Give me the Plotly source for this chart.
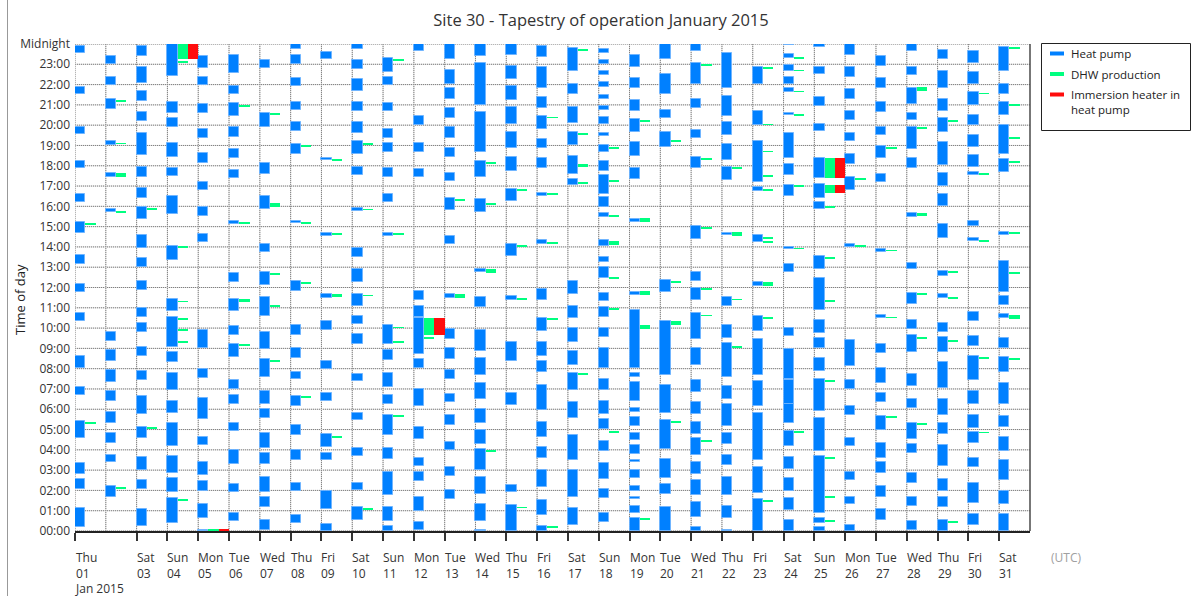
import plotly.graph_objects as go
from datetime import datetime, timedelta

# ---------------- data (hours of day, start/end of each run) ----------------
YEAR, MONTH, N_DAYS = 2015, 1, 31
labelled_days = [1] + list(range(3, 32))
day_abbr = ["Mon", "Tue", "Wed", "Thu", "Fri", "Sat", "Sun"]
hour_labels = [f"{h:02d}:00" for h in range(24)] + ["Midnight"]

heat_pump = {
    1: [(23.57, 23.9), (21.52, 21.9), (19.56, 19.93), (17.89, 18.23), (16.23, 16.6), (14.67, 15.25), (13.18, 13.6), (11.77, 12.18), (10.34, 10.74), (8.03, 8.6), (6.72, 7.1), (4.56, 5.43), (2.79, 3.33), (2.07, 2.54), (0.2, 1.11)],
    2: [(23.0, 23.41), (21.97, 22.39), (20.79, 21.31), (19.02, 19.2), (17.46, 17.64), (15.7, 15.89), (9.36, 9.8), (8.38, 8.92), (7.34, 7.92), (6.39, 6.89), (5.34, 5.87), (4.36, 4.85), (3.38, 3.77), (1.67, 2.2)],
    3: [(23.41, 23.9), (22.07, 22.89), (21.18, 21.7), (20.2, 20.67), (18.54, 19.59), (17.46, 17.92), (16.43, 16.89), (15.36, 15.95), (13.93, 14.59), (13.02, 13.46), (11.89, 12.3), (10.54, 10.98), (9.8, 10.25), (8.62, 9.05), (7.46, 7.87), (5.75, 6.66), (4.57, 5.13), (3.03, 3.66), (2.07, 2.49), (0.25, 1.07)],
    4: [(22.43, 24.0), (20.59, 21.15), (19.92, 20.33), (18.43, 19.11), (17.51, 17.89), (15.64, 16.51), (13.34, 14.05), (10.84, 11.41), (9.07, 10.57), (8.34, 8.8), (6.93, 7.79), (5.84, 6.41), (4.18, 5.3), (2.84, 3.72), (1.92, 2.59), (0.39, 1.61)],
    5: [(22.84, 23.41), (21.97, 22.39), (20.62, 21.03), (19.36, 19.8), (18.15, 18.64), (16.82, 17.21), (15.54, 15.98), (14.23, 14.66), (9.02, 9.89), (7.56, 8.0), (5.51, 6.56), (4.23, 4.64), (2.75, 3.41), (1.98, 2.46), (0.66, 1.31), (0.0, 0.06)],
    6: [(22.56, 23.46), (21.52, 21.93), (20.46, 21.08), (19.43, 19.93), (18.38, 18.85), (17.38, 17.79), (15.11, 15.28), (12.26, 12.72), (10.84, 11.44), (9.67, 10.08), (8.56, 9.23), (6.98, 7.43), (6.28, 6.69), (4.95, 5.33), (3.3, 3.98), (1.93, 2.33), (0.51, 0.87)],
    7: [(22.84, 23.2), (19.93, 20.62), (17.59, 18.13), (15.89, 16.51), (13.74, 14.16), (12.1, 12.74), (10.59, 11.51), (8.95, 9.8), (7.61, 8.48), (6.28, 6.9), (5.59, 6.02), (4.11, 4.85), (3.3, 3.82), (1.92, 2.64), (1.18, 1.69), (0.03, 0.52)],
    8: [(23.74, 24.0), (23.03, 23.46), (21.92, 22.34), (20.75, 21.16), (19.72, 20.15), (18.59, 19.08), (15.16, 15.3), (11.82, 12.34), (9.67, 10.13), (8.54, 9.02), (7.49, 7.84), (6.15, 6.64), (4.72, 5.2), (3.48, 4.0), (1.97, 2.39), (0.41, 0.79)],
    9: [(23.25, 23.61), (18.26, 18.38), (14.56, 14.7), (11.48, 11.67), (9.9, 10.34), (8.0, 8.36), (6.41, 6.82), (4.13, 4.77), (3.48, 3.82), (1.1, 1.98), (0.0, 0.34)],
    10: [(23.74, 24.0), (22.75, 23.21), (21.7, 22.26), (20.69, 21.16), (19.61, 20.15), (18.57, 19.21), (17.54, 17.93), (15.79, 15.93), (13.48, 13.97), (12.26, 12.93), (11.08, 11.66), (10.18, 10.62), (9.21, 9.69), (7.41, 7.74), (5.49, 5.84), (3.69, 4.07), (2.0, 2.39), (0.54, 1.16)],
    11: [(22.64, 23.33), (21.97, 22.39), (20.72, 21.1), (19.36, 19.8), (18.67, 19.11), (17.44, 17.89), (16.23, 16.62), (14.56, 14.7), (9.21, 10.13), (8.43, 8.93), (7.1, 7.79), (6.28, 6.7), (4.72, 5.74), (3.57, 4.11), (1.77, 2.89), (0.49, 1.16), (0.0, 0.25)],
    12: [(23.64, 24.0), (20.0, 20.43), (18.67, 19.11), (17.46, 17.82), (11.39, 11.85), (10.54, 11.11), (8.72, 10.48), (8.03, 8.48), (6.15, 6.98), (4.52, 5.13), (3.18, 3.62), (2.46, 2.89), (0.98, 1.66), (0.05, 0.46)],
    13: [(23.25, 24.0), (22.05, 22.7), (21.31, 21.85), (20.34, 20.85), (19.38, 19.9), (18.44, 18.89), (17.25, 17.66), (15.84, 16.41), (14.16, 14.56), (11.48, 11.67), (9.48, 9.95), (8.49, 9.02), (7.48, 7.95), (6.34, 6.77), (5.21, 5.7), (3.97, 4.41), (2.69, 3.13), (1.59, 2.0)],
    14: [(23.41, 24.0), (20.98, 23.08), (18.69, 20.67), (17.46, 18.23), (15.7, 16.36), (12.75, 12.89), (11.03, 11.51), (8.89, 9.93), (7.7, 8.52), (6.49, 7.3), (5.3, 6.03), (4.31, 5.0), (3.03, 4.02), (1.82, 2.64), (0.51, 1.31), (0.0, 0.05)],
    15: [(23.44, 24.0), (22.26, 22.93), (21.25, 21.95), (20.05, 20.9), (18.87, 19.66), (17.75, 18.43), (16.25, 16.85), (13.54, 14.15), (11.38, 11.56), (8.39, 9.3), (6.2, 6.8), (1.9, 2.28), (0.0, 1.26)],
    16: [(23.38, 23.9), (21.82, 22.89), (20.84, 21.41), (19.8, 20.46), (18.87, 19.34), (17.89, 18.38), (16.52, 16.67), (14.16, 14.36), (11.36, 11.93), (9.84, 10.52), (8.62, 9.31), (7.84, 8.36), (5.98, 7.18), (4.61, 5.38), (3.62, 4.15), (2.15, 3.02), (0.79, 1.51), (0.0, 0.25)],
    17: [(22.69, 23.82), (21.56, 22.05), (20.13, 20.92), (19.0, 19.64), (17.59, 18.46), (17.05, 17.34), (11.66, 12.3), (10.49, 11.11), (9.31, 10.0), (8.2, 8.89), (6.97, 7.79), (5.59, 6.36), (3.52, 4.75), (1.66, 3.0), (0.3, 1.15)],
    18: [(23.57, 23.77), (23.03, 23.23), (22.48, 22.69), (21.9, 22.15), (21.31, 21.51), (20.75, 20.93), (20.05, 20.39), (19.46, 19.61), (18.66, 19.03), (17.75, 18.23), (16.62, 17.54), (15.98, 16.46), (15.49, 15.69), (14.07, 14.33), (13.26, 13.52), (12.46, 13.03), (11.33, 11.75), (10.54, 11.02), (9.56, 10.0), (8.05, 9.02), (6.97, 7.49), (5.79, 6.41), (5.05, 5.54), (3.93, 4.46), (2.57, 3.33), (1.61, 2.07), (0.43, 0.87)],
    19: [(22.89, 23.46), (21.82, 22.34), (20.69, 21.23), (19.64, 20.3), (18.49, 19.15), (17.34, 17.89), (15.25, 15.38), (11.61, 11.8), (8.03, 10.87), (7.59, 7.79), (6.39, 7.34), (5.87, 6.08), (5.16, 5.62), (4.48, 4.85), (3.79, 4.26), (3.38, 3.52), (2.59, 3.03), (1.97, 2.23), (1.56, 1.7), (0.87, 1.23), (0.0, 0.64)],
    20: [(23.28, 24.0), (21.56, 22.54), (20.34, 20.75), (18.93, 19.64), (11.77, 12.39), (7.67, 10.34), (5.84, 7.2), (4.02, 5.49), (2.62, 3.57), (1.82, 2.34), (0.0, 1.18)],
    21: [(23.64, 24.0), (22.02, 23.08), (20.84, 21.28), (19.36, 19.75), (17.87, 18.43), (14.38, 15.03), (12.31, 12.74), (11.38, 12.0), (9.48, 10.74), (8.16, 9.02), (6.85, 7.46), (5.75, 6.36), (4.8, 5.38), (3.74, 4.56), (2.79, 3.41), (1.77, 2.51), (0.67, 1.41), (0.0, 0.2)],
    22: [(21.82, 23.57), (20.46, 21.44), (19.52, 20.18), (18.3, 19.07), (17.31, 17.95), (14.57, 14.7), (11.11, 11.51), (9.51, 10.13), (7.59, 9.26), (6.49, 7.15), (5.16, 6.28), (4.31, 4.84), (3.25, 3.74), (1.77, 2.64), (0.66, 1.23), (0.0, 0.05)],
    23: [(22.02, 22.89), (20.0, 20.72), (17.21, 19.2), (16.77, 16.93), (14.23, 14.59), (12.07, 12.25), (9.85, 10.62), (7.67, 9.44), (6.16, 7.39), (3.49, 5.82), (1.89, 3.16), (0.0, 1.56)],
    24: [(23.97, 24.0), (23.3, 23.52), (22.67, 22.97), (22.05, 22.38), (21.64, 21.84), (20.49, 20.62), (18.38, 19.59), (17.56, 18.08), (16.52, 17.05), (13.89, 14.0), (12.75, 13.16), (9.59, 10.0), (7.51, 8.97), (6.25, 7.44), (5.33, 6.28), (4.18, 4.95), (3.05, 3.67), (1.97, 2.59), (1.03, 1.61), (0.0, 0.52)],
    25: [(23.87, 24.0), (22.51, 22.89), (20.93, 21.38), (19.69, 20.08), (17.41, 18.36), (16.43, 17.1), (15.87, 16.23), (12.89, 13.54), (10.9, 12.49), (9.75, 10.38), (9.02, 9.51), (7.89, 8.52), (5.92, 7.49), (3.95, 5.57), (0.87, 3.7), (0.38, 0.62), (0.0, 0.2)],
    26: [(23.46, 24.0), (22.39, 22.89), (21.28, 21.8), (20.26, 20.69), (19.21, 19.61), (18.08, 18.57), (16.82, 17.43), (13.98, 14.15), (8.15, 9.39), (6.98, 7.44), (5.7, 6.16), (4.18, 4.56), (2.49, 2.89), (1.33, 1.7), (0.0, 0.3)],
    27: [(22.92, 23.41), (21.85, 22.31), (20.64, 21.16), (19.51, 19.9), (18.38, 18.98), (17.21, 17.59), (13.77, 13.9), (10.49, 10.66), (8.77, 9.21), (7.3, 8.03), (6.36, 6.8), (5.0, 5.69), (3.62, 4.33), (2.84, 3.38), (1.67, 2.2), (0.54, 1.08)],
    28: [(23.67, 24.0), (22.46, 22.89), (21.03, 21.85), (20.26, 20.62), (18.82, 19.93), (17.89, 18.36), (15.49, 15.69), (12.89, 13.23), (11.21, 11.75), (9.97, 10.38), (8.82, 9.64), (7.15, 7.74), (6.08, 6.51), (4.51, 5.33), (3.82, 4.31), (2.39, 2.87), (1.23, 1.66), (0.03, 0.48)],
    29: [(23.28, 23.7), (21.82, 22.69), (20.72, 21.28), (19.64, 20.33), (18.03, 19.15), (17.02, 17.64), (16.03, 16.61), (14.46, 15.13), (12.59, 12.79), (11.46, 11.66), (9.8, 10.23), (8.82, 9.54), (7.07, 8.33), (5.7, 6.51), (4.8, 5.33), (3.2, 4.26), (1.97, 2.54), (1.18, 1.7), (0.0, 0.52)],
    30: [(23.08, 23.66), (22.02, 22.64), (20.98, 21.64), (20.02, 20.51), (18.92, 19.54), (17.95, 18.52), (17.56, 17.69), (15.05, 15.3), (14.28, 14.46), (10.34, 10.77), (9.11, 9.59), (7.46, 8.62), (6.28, 6.9), (5.1, 5.74), (4.36, 4.87), (3.16, 3.62), (1.39, 2.39), (0.3, 0.82)],
    31: [(22.69, 23.87), (21.56, 22.05), (20.49, 21.16), (18.57, 20.0), (17.67, 18.33), (14.61, 14.75), (11.8, 13.31), (11.13, 11.56), (10.49, 10.67), (9.02, 9.51), (7.84, 8.57), (6.25, 7.3), (5.13, 5.69), (3.93, 4.61), (2.51, 3.52), (1.33, 1.97), (0.0, 0.82)],
}

dhw_production = {
    1: [(5.3, 5.35), (15.12, 15.2)],
    2: [(21.18, 21.22), (19.08, 19.12), (17.46, 17.64), (15.7, 15.74), (2.08, 2.12)],
    3: [(15.84, 15.92), (5.06, 5.1)],
    4: [(23.25, 24.0), (23.1, 23.16), (13.98, 14.02), (11.29, 11.33), (10.44, 10.48), (9.87, 9.91), (9.28, 9.32), (1.5, 1.58)],
    5: [(0.0, 0.06)],
    6: [(20.94, 21.0), (15.16, 15.2), (11.38, 11.42), (11.29, 11.33), (9.12, 9.2)],
    7: [(20.54, 20.58), (16.08, 16.12), (15.99, 16.03), (12.62, 12.68), (11.08, 11.14), (8.34, 8.38)],
    8: [(18.95, 19.01), (15.16, 15.2), (12.21, 12.25), (6.57, 6.61)],
    9: [(18.24, 18.3), (14.62, 14.66), (11.62, 11.66), (11.54, 11.58), (4.62, 4.66)],
    10: [(19.0, 19.1), (15.82, 15.86), (11.59, 11.63), (1.08, 1.12)],
    11: [(23.19, 23.23), (14.6, 14.68), (10.01, 10.05), (9.28, 9.32), (5.65, 5.69)],
    12: [(9.67, 10.48), (9.49, 9.53)],
    13: [(16.29, 16.33), (11.63, 11.68), (11.49, 11.54)],
    14: [(18.11, 18.15), (16.09, 16.13), (12.83, 12.87), (12.75, 12.79), (3.92, 3.98)],
    15: [(16.78, 16.82), (14.0, 14.06), (11.42, 11.46), (1.14, 1.18)],
    16: [(20.36, 20.4), (16.57, 16.61), (14.18, 14.22), (10.41, 10.47), (0.18, 0.22)],
    17: [(23.68, 23.72), (19.53, 19.59), (17.95, 18.08), (17.14, 17.18), (7.7, 7.74)],
    18: [(18.87, 18.91), (17.21, 17.25), (15.5, 15.54), (14.23, 14.27), (14.14, 14.18), (12.46, 12.5), (10.93, 10.97), (4.85, 4.89)],
    19: [(20.17, 20.23), (15.34, 15.38), (15.24, 15.28), (11.76, 11.81), (11.65, 11.7), (10.09, 10.13), (10.0, 10.04), (0.57, 0.61)],
    20: [(19.18, 19.22), (12.26, 12.3), (10.29, 10.33), (10.18, 10.22), (5.36, 5.4)],
    21: [(22.95, 22.99), (18.31, 18.37), (14.91, 14.95), (11.91, 11.95), (10.6, 10.64), (4.42, 4.46)],
    22: [(17.85, 17.89), (14.65, 14.69), (14.55, 14.59), (11.39, 11.43), (9.06, 9.1)],
    23: [(22.8, 22.84), (20.01, 20.05), (18.68, 18.72), (17.46, 17.5), (16.78, 16.82), (14.41, 14.45), (14.23, 14.27), (12.19, 12.23), (12.11, 12.15), (10.49, 10.53), (1.45, 1.51)],
    24: [(23.29, 23.33), (22.67, 22.71), (21.64, 21.68), (20.49, 20.53), (16.97, 17.03), (13.9, 13.94), (4.84, 4.9)],
    25: [(17.41, 18.36), (16.66, 17.05), (15.93, 15.97), (13.44, 13.48), (11.32, 11.36), (7.36, 7.4), (3.59, 3.63), (1.67, 1.71), (0.46, 0.5)],
    26: [(17.31, 17.37), (14.01, 14.05)],
    27: [(18.85, 18.89), (13.8, 13.84), (10.5, 10.54), (5.59, 5.63)],
    28: [(21.82, 21.86), (21.72, 21.76), (19.85, 19.89), (15.5, 15.68), (11.64, 11.68), (9.5, 9.54), (5.26, 5.3)],
    29: [(20.19, 20.23), (12.75, 12.79), (11.47, 11.51), (9.36, 9.4), (0.41, 0.45)],
    30: [(21.54, 21.58), (17.57, 17.65), (14.28, 14.32), (8.49, 8.53), (4.83, 4.87)],
    31: [(23.77, 23.81), (20.98, 21.02), (19.34, 19.38), (18.18, 18.22), (14.64, 14.72), (12.67, 12.73), (10.59, 10.63), (10.49, 10.53), (8.44, 8.48)],
}

immersion_heater = {
    4: [(23.25, 24.0)],
    5: [(0.0, 0.06)],
    12: [(9.67, 10.48)],
    25: [(17.41, 18.36), (16.66, 17.05)],
}

series_names = ["Heat pump", "DHW production", "Immersion heater in<br>heat pump"]
series_colors = ["#0080ff", "#00ff80", "#ff0d0d"]

# ---------------- figure ----------------
START = datetime(YEAR, MONTH, 1)
DAY_MS = 86400000
W, H = 1192, 596
L, R, T, B = 75, 1030, 44, 531          # plot area in pixels
PW, PH = R - L, B - T


def px_x(px):
    return (px - L) / PW


def px_y(py):
    return (B - py) / PH


def build(intervals, slot):
    xs, base, height = [], [], []
    for day, runs in intervals.items():
        centre = START + timedelta(days=day - 1, hours=4 + 8 * slot)
        for s, e in runs:
            xs.append(centre)
            base.append(s)
            height.append(e - s)
    return xs, base, height


fig = go.Figure()
for slot, data in enumerate([heat_pump, dhw_production, immersion_heater]):
    xs, base, height = build(data, slot)
    line = dict(color="rgba(110,180,255,0.9)", width=1) if slot == 0 else dict(width=0)
    fig.add_trace(go.Bar(
        x=xs, y=height, base=base, width=[DAY_MS / 3] * len(xs),
        marker=dict(color=series_colors[slot], line=line),
        name=series_names[slot].replace("<br>", " "), showlegend=False,
    ))

shapes = []
# horizontal hour gridlines: light solid under a dark dotted line
for h in range(25):
    shapes.append(dict(type="line", xref="paper", yref="y", x0=0, x1=1, y0=h, y1=h,
                       line=dict(color="#d8d8d8", width=1), layer="below"))
    shapes.append(dict(type="line", xref="paper", yref="y", x0=0, x1=1, y0=h, y1=h,
                       line=dict(color="#808080", width=1, dash="1px,1px"), layer="below"))
# vertical day gridlines
for d in range(N_DAYS):
    xd = START + timedelta(days=d)
    shapes.append(dict(type="line", xref="x", yref="paper", x0=xd, x1=xd, y0=0, y1=1,
                       line=dict(color="#d8d8d8", width=1), layer="below"))
    shapes.append(dict(type="line", xref="x", yref="paper", x0=xd, x1=xd, y0=0, y1=1,
                       line=dict(color="#808080", width=1, dash="1px,1px"), layer="below"))
# right border of plot
shapes.append(dict(type="line", xref="paper", yref="paper", x0=1, x1=1, y0=0, y1=1,
                   line=dict(color="#4a4a4a", width=1.5)))
# outer panel line on the left
shapes.append(dict(type="line", xref="paper", yref="paper", x0=px_x(7.5), x1=px_x(7.5),
                   y0=px_y(596), y1=px_y(0), line=dict(color="#999999", width=1)))

# legend (box, samples, labels)
shapes.append(dict(type="rect", xref="paper", yref="paper", x0=px_x(1041.5), x1=px_x(1190.5),
                   y0=px_y(130.5), y1=px_y(43.5), line=dict(color="#222222", width=1),
                   fillcolor="white"))
annotations = []
legend_rows = [53.5, 74, 94.5]
for i, (name, col) in enumerate(zip(series_names, series_colors)):
    yy = legend_rows[i]
    shapes.append(dict(type="line", xref="paper", yref="paper", x0=px_x(1050), x1=px_x(1064),
                       y0=px_y(yy), y1=px_y(yy), line=dict(color=col, width=4)))
    annotations.append(dict(xref="paper", yref="paper", x=px_x(1069), y=px_y(yy - 9),
                            xanchor="left", yanchor="top", align="left", showarrow=False,
                            text=name, font=dict(size=11.5, color="#222222")))

# x tick labels, left-aligned at each day
for d in labelled_days:
    dt = START + timedelta(days=d - 1)
    txt = f"{day_abbr[dt.weekday()]}<br>{d:02d}"
    if d == 1:
        txt += "<br>" + dt.strftime("%b %Y")
    annotations.append(dict(xref="x", yref="paper", x=dt, y=px_y(547), xanchor="left",
                            yanchor="top", align="left", showarrow=False, xshift=-2,
                            text=txt, font=dict(size=12, color="#333333")))
annotations.append(dict(xref="paper", yref="paper", x=px_x(1049), y=px_y(547), xanchor="left",
                        yanchor="top", showarrow=False, text="(UTC)",
                        font=dict(size=12, color="#a0a0a0")))
# y axis title
annotations.append(dict(xref="paper", yref="paper", x=px_x(20), y=px_y(300), xanchor="center",
                        yanchor="middle", showarrow=False, textangle=-90, text="Time of day",
                        font=dict(size=13, color="#222222")))

fig.update_layout(
    width=W, height=H, autosize=False,
    margin=dict(l=L, r=W - R, t=T, b=H - B, pad=0),
    paper_bgcolor="white", plot_bgcolor="white",
    font=dict(family="Open Sans, Noto Sans, sans-serif", size=12, color="#333333"),
    title=dict(text="Site 30 - Tapestry of operation January 2015", x=601 / W, xanchor="center",
               y=1 - 20 / H, yanchor="middle", font=dict(size=16.5, color="#333333")),
    barmode="overlay", bargap=0,
    shapes=shapes, annotations=annotations, showlegend=False,
    xaxis=dict(type="date", range=[START, START + timedelta(days=N_DAYS)],
               tickvals=[START + timedelta(days=d - 1) for d in labelled_days],
               showticklabels=False, ticks="outside", ticklen=8, tickcolor="#333333",
               tickwidth=1.5, showgrid=False, zeroline=False, showline=True,
               linecolor="#222222", linewidth=1.5, fixedrange=True),
    yaxis=dict(range=[0, 24], tickvals=list(range(25)), ticktext=hour_labels,
               showgrid=False, zeroline=False, showline=False, ticks="",
               tickfont=dict(size=12, color="#333333"), ticklabelstandoff=4, fixedrange=True),
)

fig.write_html("out.html", config={"displayModeBar": False},
               post_script="document.body.style.margin='0px';document.body.style.padding='0px';")
